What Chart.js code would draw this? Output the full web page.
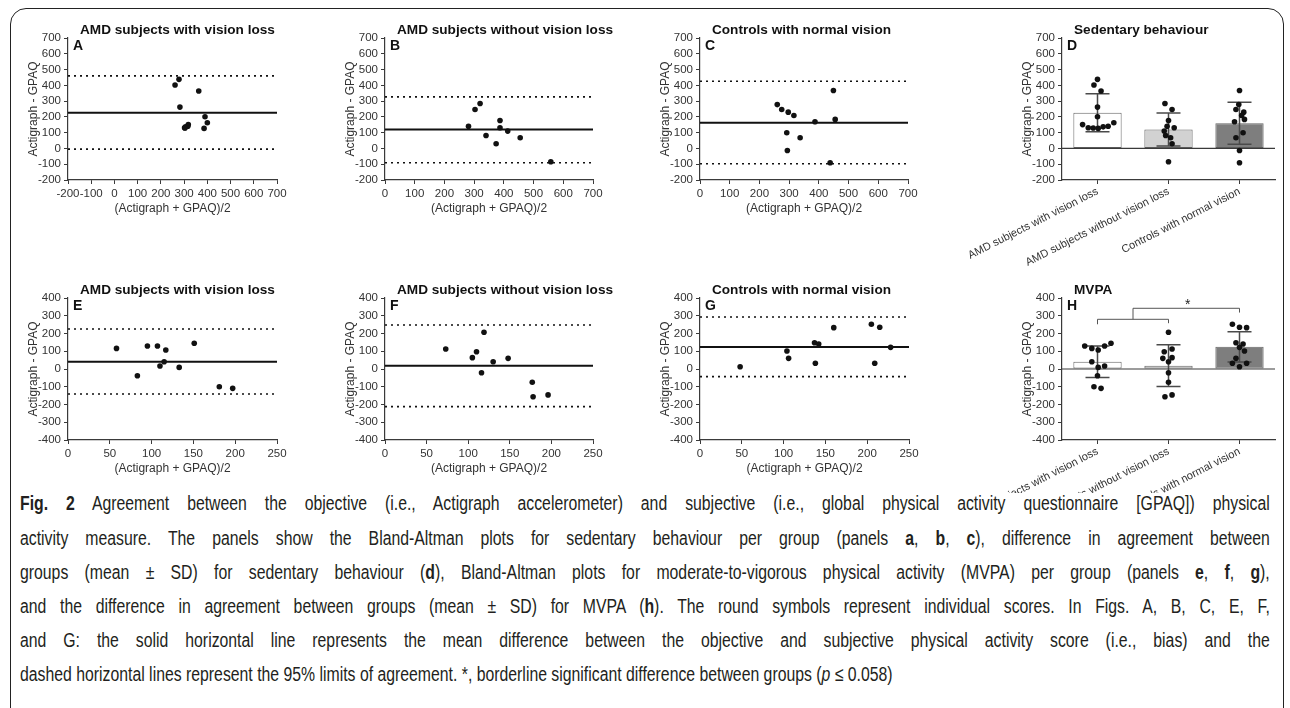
<!DOCTYPE html>
<html>
<head>
<meta charset="utf-8">
<script src="https://cdn.jsdelivr.net/npm/chart.js@4.4.0/dist/chart.umd.min.js"></script>
<style>
body { margin:0; width:1290px; height:708px; overflow:hidden; position:relative; background:#fff; font-family:"Liberation Sans", Arial, sans-serif; }
.frame { position:absolute; left:10px; top:8px; width:1274px; height:740px; border:1.5px solid #222; border-radius:16px; box-sizing:border-box; }
.cap { position:absolute; left:20px; width:1582px; font-size:20px; line-height:24px; color:#231f20;
       text-align:justify; text-align-last:justify; transform:scaleX(0.79); transform-origin:0 0; }
.cap.last { text-align-last:left; }
</style>
</head>
<body>
<div class="frame"></div>

<div class="cap" style="top:491px"><b>Fig. 2</b> Agreement between the objective (i.e., Actigraph accelerometer) and subjective (i.e., global physical activity questionnaire [GPAQ]) physical</div>
<div class="cap" style="top:526px">activity measure. The panels show the Bland-Altman plots for sedentary behaviour per group (panels <b>a</b>, <b>b</b>, <b>c</b>), difference in agreement between</div>
<div class="cap" style="top:560px">groups (mean ± SD) for sedentary behaviour (<b>d</b>), Bland-Altman plots for moderate-to-vigorous physical activity (MVPA) per group (panels <b>e</b>, <b>f</b>, <b>g</b>),</div>
<div class="cap" style="top:594px">and the difference in agreement between groups (mean ± SD) for MVPA (<b>h</b>). The round symbols represent individual scores. In Figs. A, B, C, E, F,</div>
<div class="cap" style="top:628px">and G: the solid horizontal line represents the mean difference between the objective and subjective physical activity score (i.e., bias) and the</div>
<div class="cap last" style="top:662px">dashed horizontal lines represent the 95% limits of agreement. *, borderline significant difference between groups (<i>p</i> ≤ 0.058)</div>

<script>
// ---- data ----
var groups = ['AMD subjects with vision loss', 'AMD subjects without vision loss', 'Controls with normal vision']
var xTitle = '(Actigraph + GPAQ)/2'
var yTitle = 'Actigraph - GPAQ'

// sedentary behaviour, Bland-Altman: mean of both methods (x) and difference (y)
var sedLossX = [278, 261, 363, 282, 390, 400, 318, 316, 306, 302, 304, 386]
var sedLossY = [438, 402, 364, 262, 201, 163, 151, 141, 137, 131, 130, 127]
var sedNoLossX = [320, 303, 387, 281, 387, 413, 340, 455, 374, 558]
var sedNoLossY = [285, 247, 177, 141, 131, 110, 82, 68, 30, -84]
var sedCtrlX = [449, 260, 275, 297, 316, 455, 387, 292, 337, 294, 438]
var sedCtrlY = [367, 278, 247, 230, 209, 184, 169, 99, 68, -13, -91]

// MVPA, Bland-Altman
var mvpaLossX = [151, 95, 107, 58, 117, 115, 110, 133, 83, 181, 197]
var mvpaLossY = [145, 130, 130, 116, 107, 41, 17, 9, -38, -100, -109]
var mvpaNoLossX = [119, 73, 110, 105, 148, 130, 116, 177, 196, 178]
var mvpaNoLossY = [207, 113, 97, 64, 60, 41, -21, -75, -146, -156]
var mvpaCtrlX = [205, 215, 160, 137, 142, 228, 104, 106, 138, 209, 48]
var mvpaCtrlY = [252, 235, 233, 148, 141, 122, 101, 60, 32, 32, 13]

// bias, upper and lower 95% limits of agreement
var sedLossLines = [226, 460, -4]
var sedNoLossLines = [120, 327, -91]
var sedCtrlLines = [163, 426, -97]
var mvpaLossLines = [41, 225, -141]
var mvpaNoLossLines = [19, 248, -212]
var mvpaCtrlLines = [124, 293, -43]

// group mean and SD (panels D and H)
var sedMeans = [226, 120, 160]
var sedSD = [120, 105, 133]
var mvpaMeans = [41, 19, 125]
var mvpaSD = [89, 117, 85]

// horizontal spread of the dots in D and H (in category units)
var sedJitter = [
    [0, -0.05, 0.05, 0, 0, 0.23, -0.21, 0.15, 0.08, -0.13, -0.06, 0.01],
    [-0.05, 0.05, 0, -0.02, 0.08, -0.06, -0.04, 0.03, 0.05, 0],
    [0, -0.01, -0.05, 0.06, 0.03, 0.07, -0.07, 0.05, -0.05, 0, 0]
]
var mvpaJitter = [
    [0.19, -0.18, 0.1, -0.08, 0.01, -0.08, 0.1, 0.01, 0, -0.05, 0.05],
    [0, 0.05, -0.06, 0.05, -0.08, 0, 0, 0, 0.05, -0.05],
    [-0.1, 0, 0.1, -0.05, 0.05, 0, 0.07, -0.05, -0.1, 0.1, 0]
]

// ---- drawing ----
var FONT = '"Liberation Sans", Arial, Helvetica, sans-serif'
var INK = '#1a1a1a'
var AXIS = '#3a3a3a'
var barFills = ['#ffffff', '#d2d2d2', '#7e7e7e']

Chart.defaults.font.family = FONT
Chart.defaults.color = INK

function makeCanvas(left, top, w, h) {
    var c = document.createElement('canvas')
    c.width = w
    c.height = h
    c.style.cssText = 'position:absolute;left:' + left + 'px;top:' + top + 'px;width:' + w + 'px;height:' + h + 'px'
    document.body.appendChild(c)
    return c
}

function panelText(title, letter) {
    return {
        id: 'panelText',
        afterDraw: function(chart) {
            var a = chart.chartArea, c = chart.ctx
            c.save()
            c.fillStyle = '#111'
            c.textBaseline = 'middle'
            c.textAlign = 'left'
            c.font = 'bold 13.6px ' + FONT
            c.fillText(title, a.left + 12, a.top - 8)
            c.font = 'bold 14px ' + FONT
            c.fillText(letter, a.left + 5, a.top + 8)
            c.restore()
        }
    }
}

function errorBars(means, sds) {
    return {
        id: 'errorBars',
        afterDatasetDraw: function(chart, args) {
            if (args.index !== 0) return
            var x = chart.scales.x, y = chart.scales.y, c = chart.ctx
            c.save()
            c.strokeStyle = '#4a4a4a'
            c.lineWidth = 1.5
            c.beginPath()
            for (var i = 0; i < means.length; i++) {
                var px = x.getPixelForValue(i)
                var top = y.getPixelForValue(means[i] + sds[i])
                var bot = y.getPixelForValue(means[i] - sds[i])
                c.moveTo(px, top); c.lineTo(px, bot)
                c.moveTo(px - 12, top); c.lineTo(px + 12, top)
                c.moveTo(px - 12, bot); c.lineTo(px + 12, bot)
            }
            c.stroke()
            c.restore()
        }
    }
}

// significance bracket of panel H
var sigBracket = {
    id: 'sigBracket',
    afterDatasetsDraw: function(chart) {
        var x = chart.scales.x, y = chart.scales.y, c = chart.ctx
        c.save()
        c.strokeStyle = '#555'
        c.lineWidth = 1
        c.beginPath()
        c.moveTo(x.getPixelForValue(0), y.getPixelForValue(252))
        c.lineTo(x.getPixelForValue(0), y.getPixelForValue(280))
        c.lineTo(x.getPixelForValue(1), y.getPixelForValue(280))
        c.lineTo(x.getPixelForValue(1), y.getPixelForValue(258))
        c.moveTo(x.getPixelForValue(0.5), y.getPixelForValue(280))
        c.lineTo(x.getPixelForValue(0.5), y.getPixelForValue(342))
        c.lineTo(x.getPixelForValue(2), y.getPixelForValue(342))
        c.lineTo(x.getPixelForValue(2), y.getPixelForValue(318))
        c.stroke()
        c.fillStyle = '#222'
        c.font = '14px ' + FONT
        c.textAlign = 'center'
        c.textBaseline = 'middle'
        c.fillText('*', x.getPixelForValue(1.27), y.getPixelForValue(362))
        c.restore()
    }
}

function gridStyle() {
    return { display: true, drawOnChartArea: false, drawTicks: true, tickLength: 4, tickColor: AXIS, tickWidth: 1, offset: false }
}

function yAxis(min, max) {
    return {
        type: 'linear', min: min, max: max,
        ticks: { stepSize: 100, autoSkip: false, font: { size: 11.5 }, color: '#333', padding: 3 },
        grid: gridStyle(),
        border: { display: true, color: AXIS, width: 1.2 },
        title: { display: true, text: yTitle, font: { size: 12 }, color: '#333', padding: { top: 16, bottom: 0 } },
        afterFit: function(s) { s.width = 58 }
    }
}

function blandAltman(area, xs, ys, lines, xMin, xMax, xStep, yMin, yMax, title, letter) {
    var L = area[0], T = area[1], W = area[2], H = area[3]
    var cv = makeCanvas(L - 58, T - 28, 58 + W + 32, 28 + H + 45)
    var pts = []
    for (var i = 0; i < xs.length; i++) pts.push({ x: xs[i], y: ys[i] })
    function hline(v, dash, w) {
        return { data: [{ x: xMin, y: v }, { x: xMax, y: v }], showLine: true, borderColor: '#111',
                 borderWidth: w, borderDash: dash, pointRadius: 0, order: 2 }
    }
    new Chart(cv, {
        type: 'scatter',
        data: {
            datasets: [
                { data: pts, pointRadius: 2.8, pointBackgroundColor: '#111', pointBorderWidth: 0, order: 1 },
                hline(lines[0], [], 2),
                hline(lines[1], [2, 4], 1.6),
                hline(lines[2], [2, 4], 1.6)
            ]
        },
        options: {
            responsive: false, animation: false, devicePixelRatio: 1,
            layout: { padding: { left: 0, top: 28, right: 32, bottom: 0 } },
            plugins: { legend: { display: false }, tooltip: { enabled: false } },
            scales: {
                x: {
                    type: 'linear', min: xMin, max: xMax,
                    ticks: { stepSize: xStep, font: { size: 11.5 }, color: '#333', padding: 3, maxRotation: 0, autoSkip: false },
                    grid: gridStyle(),
                    border: { display: true, color: AXIS, width: 1.2 },
                    title: { display: true, text: xTitle, font: { size: 12 }, color: '#333', padding: { top: 0, bottom: 9 } },
                    afterFit: function(s) { s.height = 45 }
                },
                y: yAxis(yMin, yMax)
            }
        },
        plugins: [panelText(title, letter)]
    })
}

function groupPanel(area, yMin, yMax, means, sds, values, jitter, title, letter, extra, cut) {
    var L = area[0], T = area[1], W = area[2], H = area[3]
    var cv = makeCanvas(L - 168, T - 28, 168 + W + 12, 28 + H + 90)
    if (cut) cv.style.clipPath = 'inset(0 0 ' + cut + 'px 0)'
    var bars = [], pts = []
    for (var g = 0; g < values.length; g++) {
        bars.push({ x: g, y: means[g] })
        for (var i = 0; i < values[g].length; i++) pts.push({ x: g + jitter[g][i], y: values[g][i] })
    }
    var plugins = [panelText(title, letter), errorBars(means, sds)]
    if (extra) plugins.push(extra)
    new Chart(cv, {
        type: 'bar',
        data: {
            datasets: [
                { data: bars, backgroundColor: barFills, borderColor: '#666', borderWidth: 1,
                  borderSkipped: false, barPercentage: 0.68, categoryPercentage: 1, order: 3 },
                { type: 'line', data: [{ x: -0.5, y: 0 }, { x: 2.5, y: 0 }], borderColor: AXIS,
                  borderWidth: 1.2, pointRadius: 0, order: 2 },
                { type: 'line', data: pts, showLine: false, pointRadius: 2.8,
                  pointBackgroundColor: '#111', pointBorderWidth: 0, order: 1 }
            ]
        },
        options: {
            responsive: false, animation: false, devicePixelRatio: 1,
            layout: { padding: { left: 110, top: 28, right: 12, bottom: 0 } },
            plugins: { legend: { display: false }, tooltip: { enabled: false } },
            scales: {
                x: {
                    type: 'linear', min: -0.5, max: 2.5, offset: false,
                    afterBuildTicks: function(s) { s.ticks = [{ value: 0 }, { value: 1 }, { value: 2 }] },
                    ticks: { font: { size: 11 }, color: '#333', padding: 1, minRotation: 27, maxRotation: 27, autoSkip: false,
                             callback: function(v) { return groups[v] } },
                    grid: gridStyle(),
                    border: { display: true, color: AXIS, width: 1.2 },
                    afterFit: function(s) { s.height = 90; s.paddingLeft = 0; s.paddingRight = 0 }
                },
                y: yAxis(yMin, yMax)
            }
        },
        plugins: plugins
    })
}

// chart areas [left, top, width, height] in page pixels
blandAltman([68, 38, 209, 142], sedLossX, sedLossY, sedLossLines, -200, 700, 100, -200, 700, 'AMD subjects with vision loss', 'A')
blandAltman([385, 38, 208, 142], sedNoLossX, sedNoLossY, sedNoLossLines, 0, 700, 100, -200, 700, 'AMD subjects without vision loss', 'B')
blandAltman([700, 38, 208, 142], sedCtrlX, sedCtrlY, sedCtrlLines, 0, 700, 100, -200, 700, 'Controls with normal vision', 'C')
groupPanel([1062, 38, 213, 142], -200, 700, sedMeans, sedSD, [sedLossY, sedNoLossY, sedCtrlY], sedJitter, 'Sedentary behaviour', 'D')

blandAltman([68, 298, 209, 142], mvpaLossX, mvpaLossY, mvpaLossLines, 0, 250, 50, -400, 400, 'AMD subjects with vision loss', 'E')
blandAltman([385, 298, 208, 142], mvpaNoLossX, mvpaNoLossY, mvpaNoLossLines, 0, 250, 50, -400, 400, 'AMD subjects without vision loss', 'F')
blandAltman([700, 298, 209, 142], mvpaCtrlX, mvpaCtrlY, mvpaCtrlLines, 0, 250, 50, -400, 400, 'Controls with normal vision', 'G')
groupPanel([1062, 298, 213, 142], -400, 400, mvpaMeans, mvpaSD, [mvpaLossY, mvpaNoLossY, mvpaCtrlY], mvpaJitter, 'MVPA', 'H', sigBracket, 37)
</script>
</body>
</html>
